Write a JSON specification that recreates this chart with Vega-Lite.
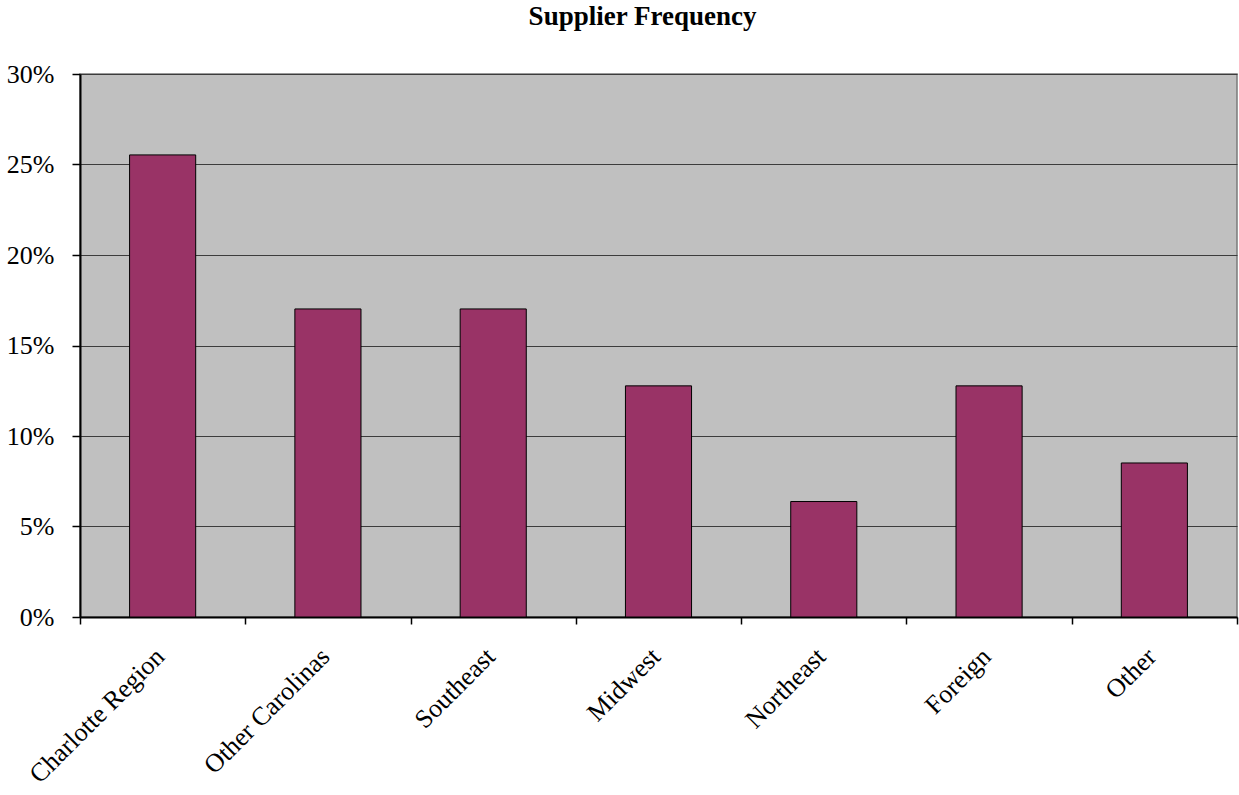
{
  "$schema": "https://vega.github.io/schema/vega-lite/v6.json",
  "autosize": "none",
  "width": 1157,
  "height": 543,
  "padding": {"left": 80, "top": 74, "right": 2, "bottom": 178},
  "background": "white",
  "title": {
    "text": "Supplier Frequency",
    "font": "Liberation Serif",
    "fontSize": 27,
    "fontWeight": "bold",
    "color": "#000000",
    "anchor": "middle",
    "offset": 30,
    "dx": -16
  },
  "config": {
    "view": {"fill": "#C0C0C0", "stroke": "#7a7a7a", "strokeWidth": 1.5},
    "axis": {
      "labelFont": "Liberation Serif",
      "labelFontSize": 26,
      "labelColor": "#000000",
      "domainColor": "#000000",
      "domainWidth": 2,
      "tickColor": "#000000",
      "tickWidth": 1.5
    }
  },
  "data": {
    "values": [
      {"region": "Charlotte Region", "count": 12, "share": 0.2553},
      {"region": "Other Carolinas", "count": 8, "share": 0.1702},
      {"region": "Southeast", "count": 8, "share": 0.1702},
      {"region": "Midwest", "count": 6, "share": 0.1277},
      {"region": "Northeast", "count": 3, "share": 0.0638},
      {"region": "Foreign", "count": 6, "share": 0.1277},
      {"region": "Other", "count": 4, "share": 0.0851}
    ]
  },
  "mark": {"type": "bar", "color": "#993366", "stroke": "#000000", "strokeWidth": 1, "width": {"band": 0.4}},
  "encoding": {
    "x": {
      "field": "region",
      "type": "nominal",
      "sort": null,
      "scale": {"paddingInner": 0, "paddingOuter": 0},
      "axis": {
        "title": null,
        "labelAngle": -45,
        "labelAlign": "right",
        "labelBaseline": "top",
        "labelPadding": 19,
        "labelOffset": -12,
        "tickBand": "extent",
        "tickSize": 7,
        "grid": false
      }
    },
    "y": {
      "field": "share",
      "type": "quantitative",
      "scale": {"domain": [0, 0.3], "nice": false},
      "axis": {
        "title": null,
        "format": ".0%",
        "values": [0, 0.05, 0.1, 0.15, 0.2, 0.25, 0.3],
        "tickSize": 8,
        "labelPadding": 18,
        "grid": true,
        "gridColor": "#3c3c3c",
        "gridWidth": 1
      }
    }
  }
}
